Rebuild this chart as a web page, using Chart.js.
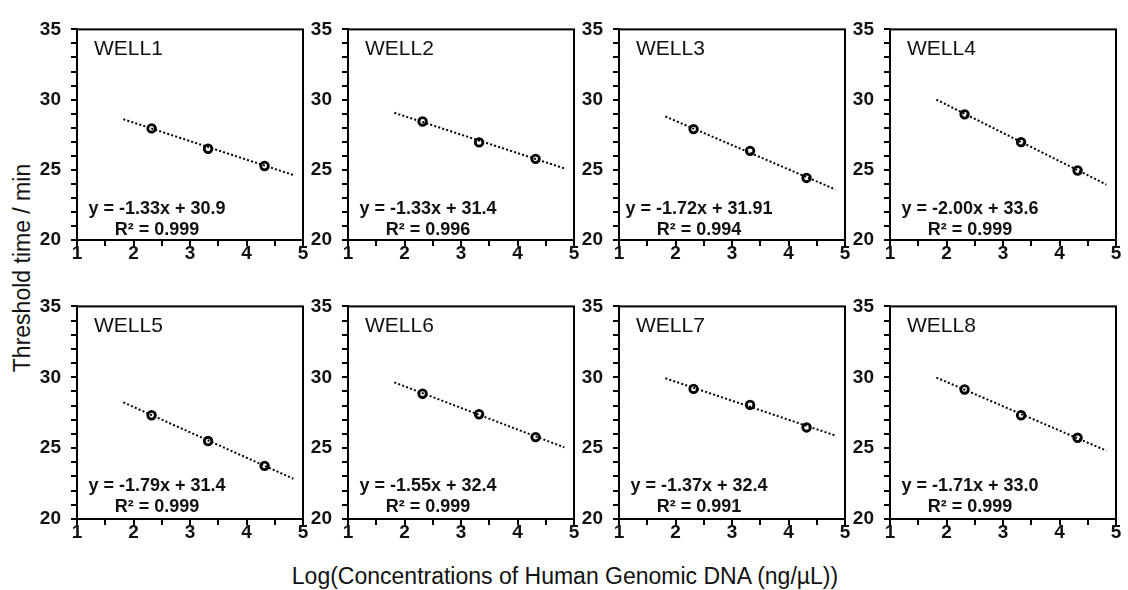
<!DOCTYPE html>
<html>
<head>
<meta charset="utf-8">
<script src="https://cdn.jsdelivr.net/npm/chart.js@4.4.1/dist/chart.umd.min.js"></script>
<style>
  body { margin: 0; background: #fff; width: 1128px; height: 590px; position: relative; overflow: hidden; font-family: "Liberation Sans", Arial, sans-serif; }
  .panel { position: absolute; }
  #ytitle { position: absolute; left: 22px; top: 268px; transform: translate(-50%, -50%) rotate(-90deg); font-size: 23px; white-space: nowrap; color: #111; }
  #xtitle { position: absolute; left: 565px; top: 576px; transform: translate(-50%, -50%); font-size: 23px; white-space: nowrap; color: #111; }
</style>
</head>
<body>
<div id="ytitle">Threshold time / min</div>
<div id="xtitle">Log(Concentrations of Human Genomic DNA (ng/µL))</div>
<script>
// measured points (log concentration) and trendline ends
const logConc = [2.32, 3.32, 4.32];
const fitX = [1.82, 4.83];
const wellNames = ["WELL1", "WELL2", "WELL3", "WELL4", "WELL5", "WELL6", "WELL7", "WELL8"];
const thresholdTimes = [
  [27.95, 26.5, 25.27],
  [28.44, 26.95, 25.78],
  [27.9, 26.35, 24.42],
  [28.95, 26.97, 24.95],
  [27.32, 25.5, 23.75],
  [28.84, 27.39, 25.78],
  [29.18, 28.05, 26.46],
  [29.14, 27.32, 25.73],
];
const fitY = [
  [28.6, 24.63],
  [29.06, 25.1],
  [28.8, 23.6],
  [30.0, 23.95],
  [28.23, 22.84],
  [29.64, 25.05],
  [29.93, 25.89],
  [29.98, 24.82],
];
const equations = [
  "y = -1.33x + 30.9",
  "y = -1.33x + 31.4",
  "y = -1.72x + 31.91",
  "y = -2.00x + 33.6",
  "y = -1.79x + 31.4",
  "y = -1.55x + 32.4",
  "y = -1.37x + 32.4",
  "y = -1.71x + 33.0",
];
const rSquared = ["0.999", "0.996", "0.994", "0.999", "0.999", "0.999", "0.991", "0.999"];

const FONT = '"Liberation Sans", Arial, sans-serif';
const colLefts = [77, 348, 619, 890];
const rowTops = [22, 299];
const rowHeights = [218, 220];
const plotW = 226;
const padL = 60, padT = 14, padR = 14, padB = 32;

// frame + well name + equation text
const panelText = {
  id: "panelText",
  afterDraw(chart, args, opts) {
    const { ctx, chartArea } = chart;
    ctx.save();
    ctx.strokeStyle = "#000";
    ctx.lineWidth = 2;
    ctx.strokeRect(chartArea.left, chartArea.top, chartArea.right - chartArea.left, chartArea.bottom - chartArea.top);
    ctx.fillStyle = "#111";
    ctx.textBaseline = "middle";
    ctx.textAlign = "left";
    ctx.font = "21px " + FONT;
    ctx.fillText(opts.name, chartArea.left + 17, chartArea.top + 20);
    ctx.textAlign = "center";
    ctx.font = "bold 18px " + FONT;
    ctx.fillText(opts.eq, chartArea.left + 80, chartArea.top + 180);
    ctx.fillText("R² = " + opts.r2, chartArea.left + 80, chartArea.top + 201);
    ctx.restore();
  },
};

function drawPanel(i) {
  const col = i % 4;
  const row = Math.floor(i / 4);
  const h = rowHeights[row];
  const div = document.createElement("div");
  div.className = "panel";
  div.style.left = colLefts[col] - padL + "px";
  div.style.top = rowTops[row] - padT + "px";
  const canvas = document.createElement("canvas");
  canvas.width = plotW + padL + padR;
  canvas.height = h + padT + padB;
  div.appendChild(canvas);
  document.body.appendChild(div);

  const tickStyle = {
    drawOnChartArea: false,
    drawTicks: true,
    tickLength: 6,
    color: "#000",
    lineWidth: 2,
  };

  new Chart(canvas.getContext("2d"), {
    type: "scatter",
    data: {
      datasets: [
        {
          data: fitX.map((x, k) => ({ x: x, y: fitY[i][k] })),
          showLine: true,
          pointRadius: 0,
          borderColor: "#000",
          borderWidth: 2,
          borderDash: [2, 2.2],
        },
        {
          data: logConc.map((x, k) => ({ x: x, y: thresholdTimes[i][k] })),
          pointRadius: 3.8,
          pointBorderWidth: 2.8,
          borderColor: "#000",
          backgroundColor: "#fff",
        },
      ],
    },
    options: {
      responsive: false,
      animation: false,
      devicePixelRatio: 1,
      layout: { padding: { top: padT, right: padR, left: 0, bottom: 0 } },
      plugins: {
        legend: { display: false },
        tooltip: { enabled: false },
        panelText: { name: wellNames[i], eq: equations[i], r2: rSquared[i] },
      },
      scales: {
        x: {
          type: "linear",
          min: 1,
          max: 5,
          afterFit: (s) => { s.height = padB; },
          grid: tickStyle,
          border: { color: "#000", width: 2 },
          ticks: {
            stepSize: 0.5,
            autoSkip: false,
            maxRotation: 0,
            padding: -4,
            color: "#111",
            font: { family: FONT, size: 19, weight: "bold" },
            callback: (v) => (Number.isInteger(v) ? v : ""),
          },
        },
        y: {
          min: 20,
          max: 35,
          afterFit: (s) => { s.width = padL; },
          grid: tickStyle,
          border: { color: "#000", width: 2 },
          ticks: {
            stepSize: 1,
            autoSkip: false,
            padding: 10,
            color: "#111",
            font: { family: FONT, size: 19, weight: "bold" },
            callback: (v) => (v % 5 === 0 ? v : ""),
          },
        },
      },
    },
    plugins: [panelText],
  });
}

for (let i = 0; i < wellNames.length; i++) drawPanel(i);
</script>
</body>
</html>
